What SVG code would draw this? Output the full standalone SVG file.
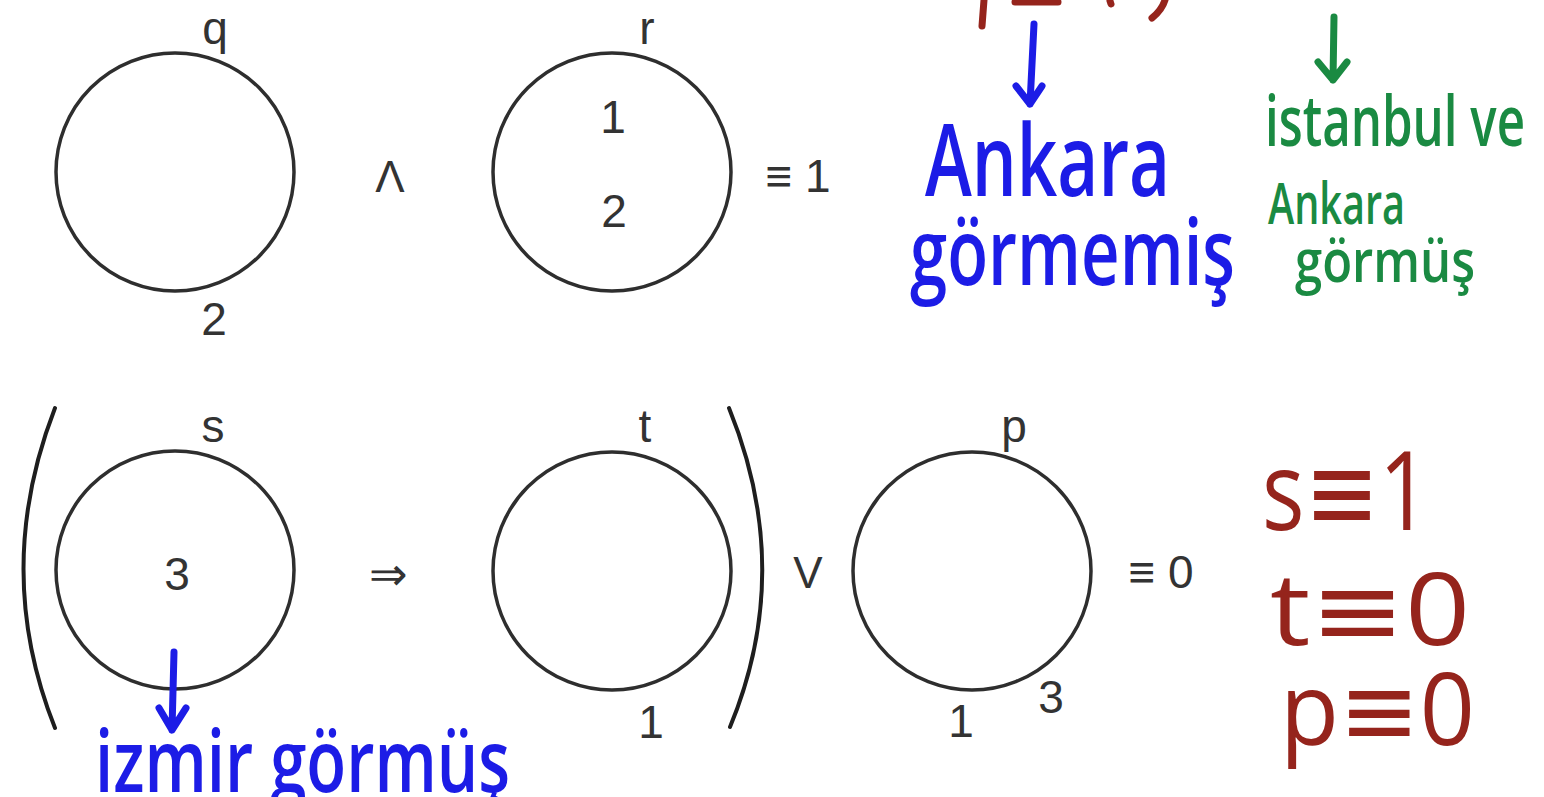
<svg xmlns="http://www.w3.org/2000/svg" width="1544" height="797" viewBox="0 0 1544 797">
<style>
.c{fill:none;stroke:#2e2e2e;stroke-width:3.5}
.par{fill:none;stroke:#1e1e1e;stroke-width:4;stroke-linecap:round}
.t{font-family:"Liberation Sans",Arial,sans-serif;font-size:46px;fill:#333;text-anchor:middle}
.op{font-family:"Liberation Sans",Arial,sans-serif;font-size:44px;fill:#333;text-anchor:middle}
.hw{font-family:"Open Sans","DejaVu Sans",sans-serif;font-weight:600}
.blue{fill:#1c1ce6}
.green{fill:#1a8a42}
.brown{fill:#95241c;font-weight:400}
.ab{fill:none;stroke:#1c1ce6;stroke-width:7;stroke-linecap:round;stroke-linejoin:round}
.ag{fill:none;stroke:#1a8a42;stroke-width:7;stroke-linecap:round;stroke-linejoin:round}
.br{fill:none;stroke:#95241c;stroke-width:7;stroke-linecap:round}
</style>
<rect width="1544" height="797" fill="#ffffff"/>

<g id="node-q">
<circle class="c" cx="175" cy="172" r="119"/>
<text class="t" x="215" y="44">q</text>
<text class="t" x="214" y="335">2</text>
</g>
<g id="op-and"><text class="op" x="390" y="192">Λ</text></g>
<g id="node-r">
<circle class="c" cx="612" cy="172" r="119"/>
<text class="t" x="647" y="44">r</text>
<text class="t" x="613" y="133">1</text>
<text class="t" x="614" y="227">2</text>
</g>
<g id="result-top"><text class="t" x="798" y="192">≡ 1</text></g>

<g id="parens">
<path class="par" d="M55 408 Q-8 570 55 728"/>
<path class="par" d="M729 408 Q795 570 730 727"/>
</g>
<g id="node-s">
<circle class="c" cx="175" cy="570" r="119"/>
<text class="t" x="213" y="442">s</text>
<text class="t" x="177" y="590">3</text>
</g>
<g id="op-impl"><text class="t" x="388" y="590">⇒</text></g>
<g id="node-t">
<circle class="c" cx="612" cy="571" r="119"/>
<text class="t" x="645" y="442">t</text>
<text class="t" x="651" y="738">1</text>
</g>
<g id="op-or"><text class="op" x="808" y="588">V</text></g>
<g id="node-p">
<circle class="c" cx="972" cy="571" r="119"/>
<text class="t" x="1014" y="442">p</text>
<text class="t" x="961" y="737">1</text>
<text class="t" x="1051" y="713">3</text>
</g>
<g id="result-bottom"><text class="t" x="1161" y="588">≡ 0</text></g>

<g id="note-ankara-blue">
<text class="hw blue" x="925" y="196" font-size="100" textLength="245" lengthAdjust="spacingAndGlyphs">Ankara</text>
<text class="hw blue" x="910" y="285" font-size="92" textLength="325" lengthAdjust="spacingAndGlyphs">görmemiş</text>
</g>
<g id="note-istanbul-green">
<text class="hw green" x="1265" y="146" font-size="70" textLength="260" lengthAdjust="spacingAndGlyphs">istanbul ve</text>
<text class="hw green" x="1268" y="224" font-size="58" textLength="137" lengthAdjust="spacingAndGlyphs">Ankara</text>
<text class="hw green" x="1295" y="282" font-size="60" textLength="180" lengthAdjust="spacingAndGlyphs">görmüş</text>
</g>
<g id="note-izmir-blue">
<text class="hw blue" x="95" y="792" font-size="86" textLength="415" lengthAdjust="spacingAndGlyphs">izmir görmüş</text>
</g>
<g id="note-values-brown">
<text class="hw brown" x="1262" y="530" font-size="110" textLength="168" lengthAdjust="spacingAndGlyphs">s≡1</text>
<text class="hw brown" x="1270" y="645" font-size="100" textLength="200" lengthAdjust="spacingAndGlyphs">t≡0</text>
<text class="hw brown" x="1280" y="745" font-size="100" textLength="195" lengthAdjust="spacingAndGlyphs">p≡0</text>
</g>
<g id="note-top-brown-cut">
<path class="br" d="M984 0 L982 26"/>
<path class="br" d="M1015 2 L1058 2"/>
<path class="br" d="M1110 1 L1111 4"/>
<path class="br" d="M1165 0 Q1162 10 1152 18"/>
</g>

<g id="connectors">
<path class="ab" d="M1034 24 L1030 104 M1016 86 L1030 104 L1042 86"/>
<path class="ag" d="M1334 17 L1333 80 M1318 62 L1333 80 L1347 62"/>
<path class="ab" d="M174 652 L172 730 M159 708 L172 730 L186 708"/>
</g>
</svg>
